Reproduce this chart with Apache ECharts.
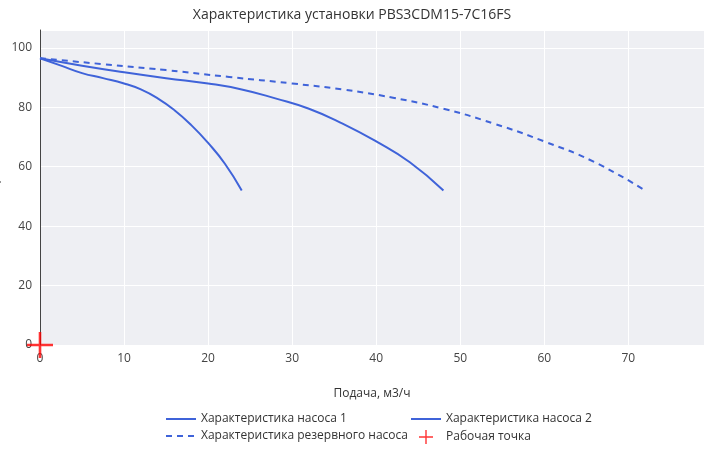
<!DOCTYPE html><html><head><meta charset="utf-8"><script src="https://cdn.jsdelivr.net/npm/echarts@6/dist/echarts.min.js"></script></head><body style="margin:0"><div id="c" style="width:704px;height:450px;background:#fff"></div><script>
const pump1=[[0,96.5],[2.5,94],[5,91.5],[7.5,89.8],[10,88],[12,86],[14,83],[16,79],[18,74],[20,68],[22,61],[24,52]];
const pump2=[[0,96.5],[5,94],[10,91.8],[15,89.8],[20,88],[24,86],[28,83],[32,79.5],[36,74.5],[40,68.5],[44,61.5],[48,52]];
const reserve=[[0,96.5],[7.5,94.5],[15,92.5],[22.5,90.2],[30,88],[36,86],[42,83.2],[48,79.5],[54,74.5],[60,68.5],[66,61.5],[72,52]];
const work=[[0,0]];
const names=['Характеристика насоса 1','Характеристика насоса 2','Характеристика резервного насоса','Рабочая точка'];
const ch=echarts.init(document.getElementById('c'));
const blue='#3f63d9';
const hid={opacity:0};
ch.setOption({
title:{text:'Характеристика установки PBS3CDM15-7C16FS',left:'center',top:3,textStyle:{fontSize:14,fontWeight:'normal',color:'#333',fontFamily:'Open Sans'}},
grid:{left:40,right:0,top:30,bottom:105,containLabel:false,outerBoundsMode:'none',show:true,backgroundColor:'#eeeff3',borderWidth:0},
textStyle:{fontFamily:'Open Sans'},
xAxis:{type:'value',min:0,max:79,interval:10,name:'Подача, м3/ч',nameLocation:'middle',nameGap:43,nameTextStyle:{color:'#333',fontSize:12},
 axisLine:{show:false},axisTick:{show:false},axisLabel:{color:'#444',fontSize:12,showMaxLabel:false},splitLine:{lineStyle:{color:'#fff'}}},
yAxis:{type:'value',min:0,max:106,interval:20,name:'Напор, м',nameLocation:'middle',nameGap:28,nameTextStyle:{color:'#333',fontSize:12},
 axisLine:{show:true,lineStyle:{color:'#444'}},axisTick:{show:false},axisLabel:{color:'#444',fontSize:12,showMaxLabel:false},splitLine:{lineStyle:{color:'#fff'}}},
legend:[{data:[{name:names[0],itemStyle:hid},{name:names[2],itemStyle:hid}],orient:'vertical',left:160,top:408,itemGap:5,itemWidth:30,textStyle:{fontSize:12,color:'#333'}},
 {data:[{name:names[1],itemStyle:hid},names[3]],orient:'vertical',left:405,top:408,itemGap:5,itemWidth:30,textStyle:{fontSize:12,color:'#333'}}],
series:[
{name:names[0],type:'line',data:pump1,smooth:true,showSymbol:false,symbol:'none',lineStyle:{color:blue,width:2},itemStyle:{color:blue}},
{name:names[1],type:'line',data:pump2,smooth:true,showSymbol:false,symbol:'none',lineStyle:{color:blue,width:2},itemStyle:{color:blue}},
{name:names[2],type:'line',data:reserve,smooth:true,showSymbol:false,symbol:'none',lineStyle:{color:blue,width:2,type:[6,5]},itemStyle:{color:blue}},
{name:names[3],type:'scatter',data:work,clip:true,symbol:'path://M9,0H11V9H20V11H11V20H9V11H0V9H9Z',symbolSize:26,itemStyle:{color:'#f00'},z:5}
]});
</script></body></html>
